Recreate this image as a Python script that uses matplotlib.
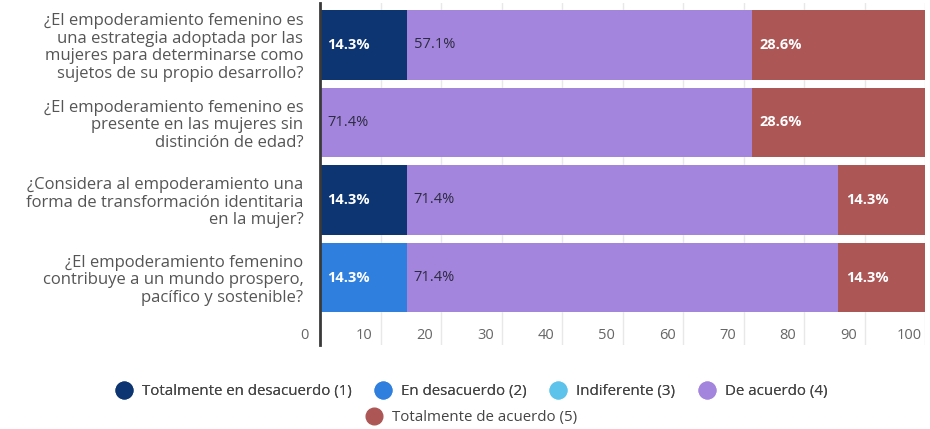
import matplotlib.pyplot as plt
import matplotlib.transforms as mtransforms
from matplotlib.lines import Line2D
import numpy as np

plt.rcParams['font.family'] = ['Open Sans', 'DejaVu Sans']

preguntas = [
    '¿El empoderamiento femenino es\nuna estrategia adoptada por las\nmujeres para determinarse como\nsujetos de su propio desarrollo?',
    '¿El empoderamiento femenino es\npresente en las mujeres sin\ndistinción de edad?',
    '¿Considera al empoderamiento una\nforma de transformación identitaria\nen la mujer?',
    '¿El empoderamiento femenino\ncontribuye a un mundo prospero,\npacífico y sostenible?',
]
categorias = ['Totalmente en desacuerdo (1)', 'En desacuerdo (2)', 'Indiferente (3)',
              'De acuerdo (4)', 'Totalmente de acuerdo (5)']
colores = ['#0c3571', '#2f7fdf', '#5ec3ea', '#a485dd', '#ad5656']
color_texto = ['white', 'white', '#2b2b3f', '#2b2b3f', 'white']

tot_desacuerdo = [14.3, 0, 14.3, 0]
en_desacuerdo = [0, 0, 0, 14.3]
indiferente = [0, 0, 0, 0]
de_acuerdo = [57.1, 71.4, 71.4, 71.4]
tot_acuerdo = [28.6, 28.6, 14.3, 14.3]
series = [tot_desacuerdo, en_desacuerdo, indiferente, de_acuerdo, tot_acuerdo]

fig = plt.figure(figsize=(9.3, 4.29), dpi=100)
ax = fig.add_axes([320/930, 1 - 345/429, 605/930, 342/429])

y = np.arange(len(preguntas))
left = np.zeros(len(preguntas))
for vals, col, tcol in zip(series, colores, color_texto):
    vals = np.array(vals)
    ax.barh(y, vals, left=left, height=0.9, color=col, zorder=2)
    for yi, l, v in zip(y, left, vals):
        if v > 0:
            ax.text(l + 1.2, yi, f'{v}%', va='center', ha='left', color=tcol,
                    fontsize=10.5, fontweight='bold' if tcol == 'white' else 'normal', zorder=3)
    left += vals

ax.set_xlim(0, 100)
ax.set_ylim(3.87, -0.54)
ax.set_xticks(range(0, 101, 10))
ax.grid(axis='x', color='#e8e8e8', lw=1, zorder=0)
ax.tick_params(axis='x', length=0, pad=-12, labelcolor='#666666', labelsize=10.5)
offset = mtransforms.ScaledTranslation(-16/100, 0, fig.dpi_scale_trans)
for lbl in ax.get_xticklabels():
    lbl.set_transform(lbl.get_transform() + offset)

ax.set_yticks(y, preguntas)
ax.tick_params(axis='y', length=0, pad=12, labelcolor='#555555', labelsize=12)
for lbl in ax.get_yticklabels():
    lbl.set_multialignment('right')
    lbl.set_linespacing(1.12)

for s in ['top', 'right', 'bottom']:
    ax.spines[s].set_visible(False)
ax.spines['left'].set_color('#3a3a3a')
ax.spines['left'].set_linewidth(2)
ax.spines['left'].set_zorder(4)

handles = [Line2D([], [], marker='o', ls='', markersize=12, color=c) for c in colores]
leg1 = fig.legend(handles[:4], categorias[:4], loc='center', bbox_to_anchor=(468/930, 1 - 392/429),
                  ncol=4, frameon=False, handletextpad=0.2, columnspacing=1.1, fontsize=10.8,
                  labelcolor='#444444')
fig.add_artist(leg1)
fig.legend(handles[4:], categorias[4:], loc='center', bbox_to_anchor=(468/930, 1 - 418/429),
           frameon=False, handletextpad=0.2, fontsize=10.8, labelcolor='#444444')

fig.savefig('out.png', dpi=100, facecolor='white')
